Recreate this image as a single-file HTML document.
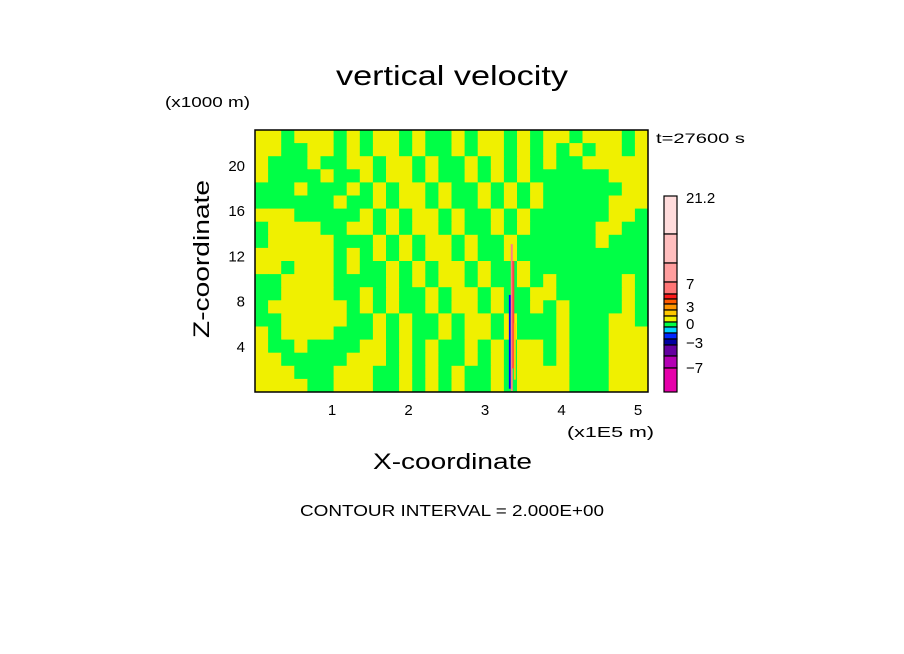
<!DOCTYPE html>
<html><head><meta charset="utf-8"><style>
html,body{margin:0;padding:0;background:#fff;width:904px;height:654px;overflow:hidden}
svg text{font-family:"Liberation Sans",sans-serif;fill:#000}
</style></head><body>
<svg id="chart" width="904" height="654" viewBox="0 0 904 654" xmlns="http://www.w3.org/2000/svg">
<rect width="904" height="654" fill="#fff"/>
<text x="336" y="85" font-size="28" textLength="232" lengthAdjust="spacingAndGlyphs">vertical velocity</text>
<text x="165" y="107" font-size="15" textLength="85" lengthAdjust="spacingAndGlyphs">(x1000 m)</text>
<text x="656" y="143" font-size="14" textLength="89" lengthAdjust="spacingAndGlyphs">t=27600 s</text>
<g id="field"></g>
<g id="spike"></g>
<rect x="255" y="130" width="393" height="262" fill="none" stroke="#000" stroke-width="1.5"/>
<g id="xticks"></g>
<g id="yticks"></g>
<text x="567" y="437" font-size="15" textLength="87" lengthAdjust="spacingAndGlyphs">(x1E5 m)</text>
<text x="373" y="469" font-size="22" textLength="159" lengthAdjust="spacingAndGlyphs">X-coordinate</text>
<text x="180" y="0" font-size="22" textLength="158" lengthAdjust="spacingAndGlyphs" transform="translate(209,518) rotate(-90)">Z-coordinate</text>
<g id="cbar"></g>
<text x="300" y="516" font-size="16" textLength="304" lengthAdjust="spacingAndGlyphs">CONTOUR INTERVAL = 2.000E+00</text>
</svg>
<script>
// Field grid (top row first): Y = 0..1 (yellow), G = -1..0 (green)
const fieldRows = [
"YYGYYYGYGYYGYGGYGYYGYGYYGYYYGY",
"YYGGYYGYGYYGYGGYGYYGYGYGYGYYGY",
"YGGGYGGYYGYYGYGGYGYGYGYGGYYYYY",
"YGGGGYGGYGYYGYGGYGYGYGGGGGGYYY",
"GGGYGGGYGYGYYGYGGYGYGYGGGGGGYY",
"GGGGGGYGGYGYYGYGGYGYGYGGGGGYYY",
"YYYGGGGGYGYGYYGYGGYGYGGGGGGYYG",
"GYYYYGGYYGYGYYGYGGYGYGGGGGYYGG",
"GYYYYYGGGYGYGYYGYGGYGGGGGGYGGG",
"YYYYYYGYGYGYGYYGYGGYGGGGGGGGGG",
"YYGYYYGYGGYGYGYYGYGGYGGGGGGGGG",
"GGYYYYGGGGYGYGYYGYGGYGYGGGGGYG",
"GGYYYYGGYGYGGYGYYGYGGYYGGGGGYG",
"GYYYYYYGYGYGGYGYYGYGGYGYGGGGYG",
"GGYYYYYGGYGYGGYGYYGYGGGYGGGYYG",
"YGYYYYGGGYGYGGYGYYGYGGGYGGGYYY",
"YGGYGGGGYYGYGYGGYGYGYYGYGGGYYY",
"YYGGGGGYYYGYGYGGYGYGYYGYGGGYYY",
"YYYGGGYYYGGYGYGYGGYGYYYYGGGYYY",
"YYYYGGYYYGGYGYGYGGYGYYYYGGGYYY"
];
const xTicks = [1,2,3,4,5];
const zTicks = [4,8,12,16,20];
// updraft core: x position (x1E5 m), z bottom/top (km), colour
const spikeX = [3.325, 3.35, 3.37, 3.39];
const spikeZ0 = [0.2, 0.0, 2.0, 1.0];
const spikeZ1 = [8.5, 13.0, 11.5, 6.0];
const spikeCol = ["#0000ff", "#ff8080", "#ff4040", "#ffc800"];
const cbarLabels = ["21.2","7","3","0","-3","-7"];
const cbarLabelY = [197,283,306,323,342,367];
const cbarColors = ["#ffdcdc","#ffbebe","#ff9e9e","#ff7575","#ff1a1a","#ff5a00","#ff9600","#ffc800","#f0f000","#00ff46","#00d2ff","#0028ff","#0000a0","#6400a0","#b400b4","#e600aa"];
const cbarEdges = [196,234,263,282,294,299,304,310,316,322,327,333,339,345,356,368,392];

const X0=255,X1=648,Y0=130,Y1=392;
const xs=v=>255.5+v*76.5;
const zs=v=>391-v*11.3;
const NS="http://www.w3.org/2000/svg";
function mk(t,a,p){const e=document.createElementNS(NS,t);for(const k in a)e.setAttribute(k,a[k]);p.appendChild(e);return e;}
const field=document.getElementById('field');
const nr=fieldRows.length,nc=fieldRows[0].length;
const cw=(X1-X0)/nc,ch=(Y1-Y0)/nr;
fieldRows.forEach((row,r)=>{for(let c=0;c<nc;c++){
 const e=mk('rect',{x:X0+c*cw,y:Y0+r*ch,width:cw+0.5,height:ch+0.5,fill:row[c]==='Y'?'#f0f000':'#00ff46'},field);
 
 
}});
const sp=document.getElementById('spike');
spikeX.forEach((x,i)=>{
 const e=mk('rect',{x:xs(x)-1,y:zs(spikeZ1[i]),width:2,height:zs(spikeZ0[i])-zs(spikeZ1[i]),fill:spikeCol[i]},sp);
 
 
});
const xt=document.getElementById('xticks');
xTicks.forEach(v=>{const e=mk('text',{x:xs(v),y:415,'font-size':15,'text-anchor':'middle'},xt);e.textContent=v;
 
 });
const yt=document.getElementById('yticks');
zTicks.forEach(v=>{const e=mk('text',{x:245,y:zs(v)+6,'font-size':15,'text-anchor':'end'},yt);e.textContent=v;
 
 });
const cb=document.getElementById('cbar');
for(let i=0;i<cbarColors.length;i++){
 const e=mk('rect',{x:664,y:cbarEdges[i],width:13,height:cbarEdges[i+1]-cbarEdges[i],fill:cbarColors[i],stroke:'#000','stroke-width':1.2},cb);
 
 
}
cbarLabels.forEach((t,i)=>{const e=mk('text',{x:686,y:cbarLabelY[i]+6,'font-size':15},cb);e.textContent=t.replace('-','\u2212');
 
 });
</script>
</body></html>
